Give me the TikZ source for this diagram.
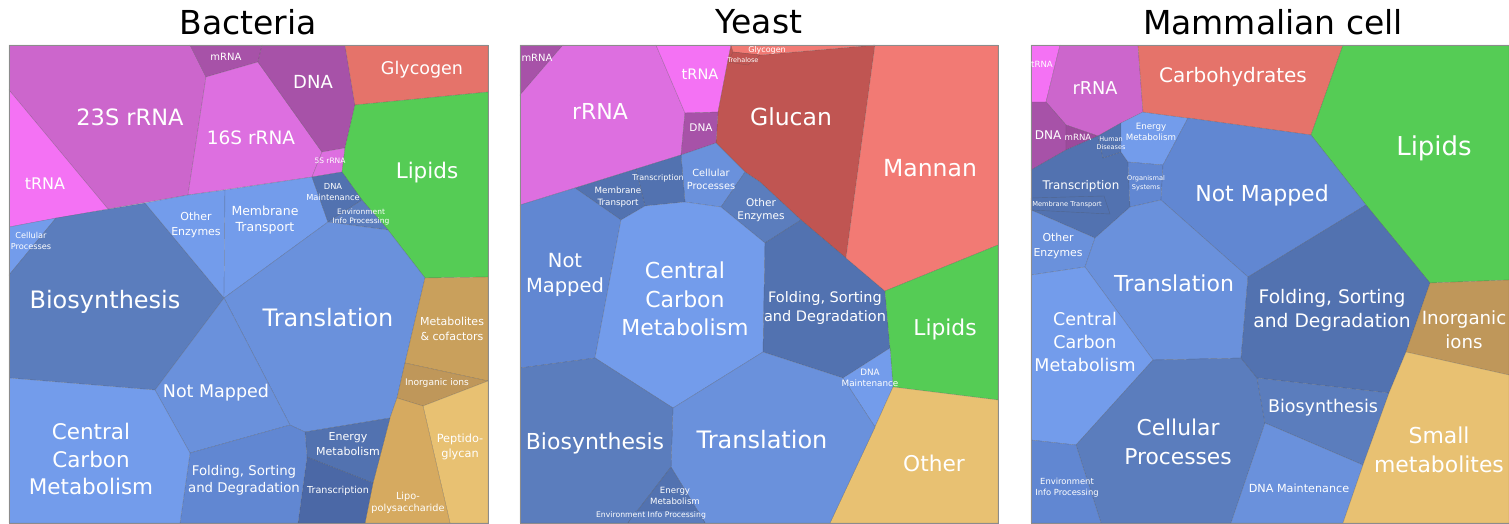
\documentclass[tikz,border=0pt]{standalone}
\usepackage{fontspec}
\setmainfont{DejaVu Sans}
\usepackage{tikz}
\definecolor{rnaA}{HTML}{CC66CC}
\definecolor{rnaB}{HTML}{DD6FE0}
\definecolor{trna}{HTML}{F472F4}
\definecolor{dnaC}{HTML}{A752A8}
\definecolor{mrnaC}{HTML}{9C4A9C}
\definecolor{glyc}{HTML}{E5736A}
\definecolor{mann}{HTML}{F27A74}
\definecolor{gluc}{HTML}{C05552}
\definecolor{lipid}{HTML}{55CC55}
\definecolor{tanA}{HTML}{C9A05C}
\definecolor{tanB}{HTML}{BF975A}
\definecolor{tanC}{HTML}{E8C172}
\definecolor{tanD}{HTML}{D6AA60}
\definecolor{bluA}{HTML}{739CEB}
\definecolor{bluB}{HTML}{6A91DC}
\definecolor{bluC}{HTML}{6187D2}
\definecolor{bluD}{HTML}{5B7DBD}
\definecolor{bluE}{HTML}{5272B0}
\definecolor{bluF}{HTML}{4B68A6}

\begin{document}
\begin{tikzpicture}[x=1pt, y=-1pt,
  cell/.style={fill=#1, draw=black!70, draw opacity=0.35, line width=0.4pt},
  frame/.style={draw=black!45, line width=0.7pt},
  lbl/.style={/utils/exec={\pgfmathsetmacro\lskip{1.3*#1}}, text=white, align=center, inner sep=0pt, font=\fontsize{#1}{\lskip}\selectfont},
  title/.style={text=black, inner sep=0pt, font=\fontsize{33}{36}\selectfont},
]
\useasboundingbox (0,0) rectangle (1509,523);

% Bacteria
\fill[cell=rnaA] (9,45) -- (190,45) -- (206,77) -- (188,195) -- (108,209) -- (9,90) -- cycle;
\fill[cell=trna] (9,90) -- (108,209) -- (9,227) -- cycle;
\fill[cell=dnaC] (190,45) -- (262,45) -- (258,62) -- (206,77) -- cycle;
\fill[cell=rnaB] (206,77) -- (258,62) -- (322,152) -- (312,177) -- (188,195) -- cycle;
\fill[cell=dnaC] (262,45) -- (345,45) -- (355,105) -- (345,148) -- (322,152) -- (258,62) -- cycle;
\fill[cell=rnaB] (322,152) -- (345,148) -- (342,172) -- (312,177) -- cycle;
\fill[cell=glyc] (345,45) -- (488,45) -- (488,92) -- (355,105) -- cycle;
\fill[cell=lipid] (355,105) -- (488,92) -- (488,277) -- (425,278) -- (388,230) -- (362,200) -- (342,172) -- (345,148) -- cycle;
\fill[cell=bluA] (9,227) -- (56,218) -- (9,275) -- cycle;
\fill[cell=bluD] (9,275) -- (56,218) -- (145,203) -- (224,298) -- (155,390) -- (9,378) -- cycle;
\fill[cell=bluA] (145,203) -- (188,195) -- (225,190) -- (224,298) -- cycle;
\fill[cell=bluA] (225,190) -- (312,177) -- (328,222) -- (224,298) -- cycle;
\fill[cell=bluE] (312,177) -- (342,172) -- (362,200) -- (328,222) -- cycle;
\fill[cell=bluD] (328,222) -- (362,200) -- (388,230) -- cycle;
\fill[cell=bluB] (224,298) -- (328,222) -- (388,230) -- (425,278) -- (405,363) -- (397,398) -- (390,418) -- (305,432) -- (290,425) -- cycle;
\fill[cell=bluB] (224,298) -- (290,425) -- (190,453) -- (155,390) -- cycle;
\fill[cell=tanA] (425,278) -- (488,277) -- (488,381) -- (405,363) -- cycle;
\fill[cell=tanB] (405,363) -- (488,381) -- (423,406) -- (397,398) -- cycle;
\fill[cell=tanC] (423,406) -- (488,381) -- (488,523) -- (450,523) -- cycle;
\fill[cell=tanD] (397,398) -- (423,406) -- (450,523) -- (365,523) -- (373,483) -- (390,418) -- cycle;
\fill[cell=bluE] (305,432) -- (390,418) -- (373,483) -- (307,457) -- cycle;
\fill[cell=bluF] (307,457) -- (373,483) -- (365,523) -- (298,523) -- cycle;
\fill[cell=bluC] (190,453) -- (290,425) -- (305,432) -- (307,457) -- (298,523) -- (180,523) -- cycle;
\fill[cell=bluA] (9,378) -- (155,390) -- (190,453) -- (180,523) -- (9,523) -- cycle;
\draw[frame] (9,45) rectangle (488,523);

% Yeast
\fill[cell=dnaC] (520,45) -- (563,45) -- (520,95) -- cycle;
\fill[cell=rnaB] (563,45) -- (656,45) -- (685,113) -- (681,155) -- (520,205) -- (520,95) -- cycle;
\fill[cell=trna] (656,45) -- (731,45) -- (728,60) -- (718,112) -- (685,113) -- cycle;
\fill[cell=gluc] (731,45) -- (760,55) -- (875,45) -- (846,258) -- (801,220) -- (760,182) -- (745,172) -- (716,143) -- (718,112) -- (728,60) -- cycle;
\fill[cell=mann] (731,45) -- (875,45) -- (760,55) -- (733,52) -- cycle;
\fill[cell=gluc] (733,52) -- (760,55) -- (748,65) -- (728,62) -- cycle;
\fill[cell=dnaC] (685,113) -- (718,112) -- (716,143) -- (681,155) -- cycle;
\fill[cell=bluB] (681,155) -- (716,143) -- (745,172) -- (721,207) -- (685,202) -- cycle;
\fill[cell=bluD] (745,172) -- (760,182) -- (801,220) -- (765,243) -- (721,207) -- cycle;
\fill[cell=bluE] (636,169) -- (681,155) -- (685,202) -- (645,206) -- cycle;
\fill[cell=bluE] (575,188) -- (636,169) -- (645,206) -- (621,220) -- cycle;
\fill[cell=bluC] (520,205) -- (575,188) -- (621,220) -- (595,358) -- (520,368) -- cycle;
\fill[cell=bluA] (621,220) -- (645,206) -- (685,202) -- (721,207) -- (765,243) -- (763,352) -- (673,408) -- (595,358) -- cycle;
\fill[cell=bluE] (765,243) -- (801,220) -- (846,258) -- (885,291) -- (890,348) -- (843,378) -- (763,352) -- cycle;
\fill[cell=mann] (875,45) -- (998,45) -- (998,245) -- (885,291) -- (846,258) -- cycle;
\fill[cell=lipid] (885,291) -- (998,245) -- (998,400) -- (893,387) -- (890,348) -- cycle;
\fill[cell=bluA] (843,378) -- (890,348) -- (893,387) -- (875,427) -- cycle;
\fill[cell=tanC] (893,387) -- (998,400) -- (998,523) -- (830,523) -- (875,427) -- cycle;
\fill[cell=bluB] (673,408) -- (763,352) -- (843,378) -- (875,427) -- (830,523) -- (705,523) -- (671,467) -- cycle;
\fill[cell=bluD] (520,368) -- (595,358) -- (673,408) -- (671,467) -- (628,523) -- (520,523) -- cycle;
\fill[cell=bluE] (671,467) -- (705,523) -- (628,523) -- cycle;
\fill[cell=bluD] (636,511) -- (698,511) -- (705,523) -- (628,523) -- cycle;
\draw[frame] (520,45) rectangle (998,523);

% Mammalian cell
\fill[cell=trna] (1031,45) -- (1060,45) -- (1046,102) -- (1031,102) -- cycle;
\fill[cell=rnaA] (1060,45) -- (1138,45) -- (1143,112) -- (1121,123) -- (1098,136) -- (1066,125) -- (1046,102) -- cycle;
\fill[cell=dnaC] (1031,102) -- (1046,102) -- (1066,125) -- (1066,150) -- (1031,170) -- cycle;
\fill[cell=mrnaC] (1066,125) -- (1098,136) -- (1066,150) -- cycle;
\fill[cell=bluE] (1031,170) -- (1066,150) -- (1098,136) -- (1103,158) -- (1121,152) -- (1128,162) -- (1130,207) -- (1095,238) -- (1031,210) -- cycle;
\fill[cell=bluE] (1098,136) -- (1121,123) -- (1121,152) -- (1103,158) -- cycle;
\fill[cell=bluE] (1031,198) -- (1104,196) -- (1110,214) -- (1031,210) -- cycle;
\fill[cell=bluA] (1121,123) -- (1143,112) -- (1188,118) -- (1163,165) -- (1128,162) -- (1121,152) -- cycle;
\fill[cell=bluC] (1128,162) -- (1163,165) -- (1161,200) -- (1130,207) -- cycle;
\fill[cell=bluB] (1031,210) -- (1095,238) -- (1085,267) -- (1031,275) -- cycle;
\fill[cell=glyc] (1138,45) -- (1343,45) -- (1311,135) -- (1188,118) -- (1143,112) -- cycle;
\fill[cell=lipid] (1343,45) -- (1509,45) -- (1509,280) -- (1430,283) -- (1366,205) -- (1311,135) -- cycle;
\fill[cell=bluC] (1188,118) -- (1311,135) -- (1366,205) -- (1248,277) -- (1161,200) -- (1163,165) -- cycle;
\fill[cell=bluB] (1130,207) -- (1161,200) -- (1248,277) -- (1241,358) -- (1153,360) -- (1085,267) -- (1095,238) -- cycle;
\fill[cell=bluA] (1031,275) -- (1085,267) -- (1153,360) -- (1076,445) -- (1031,440) -- cycle;
\fill[cell=bluD] (1153,360) -- (1241,358) -- (1257,378) -- (1265,423) -- (1231,523) -- (1101,523) -- (1076,445) -- cycle;
\fill[cell=bluC] (1031,440) -- (1076,445) -- (1101,523) -- (1031,523) -- cycle;
\fill[cell=bluE] (1248,277) -- (1366,205) -- (1430,283) -- (1406,352) -- (1389,393) -- (1257,378) -- (1241,358) -- cycle;
\fill[cell=bluD] (1257,378) -- (1389,393) -- (1363,465) -- (1265,423) -- cycle;
\fill[cell=bluB] (1265,423) -- (1363,465) -- (1343,523) -- (1231,523) -- cycle;
\fill[cell=tanB] (1430,283) -- (1509,280) -- (1509,375) -- (1406,352) -- cycle;
\fill[cell=tanC] (1406,352) -- (1509,375) -- (1509,523) -- (1343,523) -- (1363,465) -- (1389,393) -- cycle;
\draw[frame] (1031,45) rectangle (1509,523);

\node[title] (tbac) at (248,22) {Bacteria};
\node[title] (tyst) at (759,22) {Yeast};
\node[title] (tmam) at (1273,22) {Mammalian cell};

\node[lbl=22.5] (b23s) at (130,117) {23S rRNA};
\node[lbl=18.5] (b16s) at (251,138) {16S rRNA};
\node[lbl=16] (btrna) at (45,184) {tRNA};
\node[lbl=10] (bmrna) at (226,57) {mRNA};
\node[lbl=18] (bdna) at (313,82) {DNA};
\node[lbl=17.5] (bglyc) at (422,70) {Glycogen};
\node[lbl=21.5] (blip) at (427,173) {Lipids};
\node[lbl=7.5] (b5s) at (330,161) {5S rRNA};
\node[lbl=8.2] (bcell) at (31,241) {Cellular\\Processes};
\node[lbl=11] (benz) at (196,225) {Other\\Enzymes};
\node[lbl=12.5] (bmem) at (265,220) {Membrane\\Transport};
\node[lbl=8.3] (bdnam) at (333,192) {DNA\\Maintenance};
\node[lbl=7.5] (benv) at (361,217) {Environment\\Info Processing};
\node[lbl=24] (bbio) at (105,302) {Biosynthesis};
\node[lbl=24] (btrans) at (328,318) {Translation};
\node[lbl=17.5] (bnm) at (216,393) {Not Mapped};
\node[lbl=21.5] (bccm) at (91,459) {Central\\Carbon\\Metabolism};
\node[lbl=13.3] (bfold) at (244,480) {Folding, Sorting\\and Degradation};
\node[lbl=11] (benm) at (348,444) {Energy\\Metabolism};
\node[lbl=9.6] (btrx) at (338,491) {Transcription};
\node[lbl=11] (bmet) at (452,329) {Metabolites\\\& cofactors};
\node[lbl=9.1] (bion) at (437,383) {Inorganic ions};
\node[lbl=11.3] (bpep) at (460,447) {Peptido-\\glycan};
\node[lbl=9.7] (blps) at (408,503) {Lipo-\\polysaccharide};

\node[lbl=10] (ymrna) at (537,58) {mRNA};
\node[lbl=22] (yrrna) at (600,111) {rRNA};
\node[lbl=14.5] (ytrna) at (700,74) {tRNA};
\node[lbl=10.5] (ydna) at (701,128) {DNA};
\node[lbl=8] (yglyc) at (767,50) {Glycogen};
\node[lbl=6.5] (ytre) at (743,60) {Trehalose};
\node[lbl=23.5] (yglu) at (791,117) {Glucan};
\node[lbl=23.5] (yman) at (930,168) {Mannan};
\node[lbl=19.5] (ynm) at (565,275) {Not\\Mapped};
\node[lbl=22] (yccm) at (685,299) {Central\\Carbon\\Metabolism};
\node[lbl=8] (ytrx) at (658,178) {Transcription};
\node[lbl=8.7] (ymem) at (618,197) {Membrane\\Transport};
\node[lbl=9.8] (ycell) at (711,179) {Cellular\\Processes};
\node[lbl=10.5] (yenz) at (761,210) {Other\\Enzymes};
\node[lbl=14.5] (yfold) at (825,308) {Folding, Sorting\\and Degradation};
\node[lbl=21.8] (ylip) at (945,329) {Lipids};
\node[lbl=8.8] (ydnam) at (870,378) {DNA\\Maintenance};
\node[lbl=24] (ytrans) at (762,440) {Translation};
\node[lbl=22] (ybio) at (595,443) {Biosynthesis};
\node[lbl=21.7] (yoth) at (934,463) {Other};
\node[lbl=8.6] (yenm) at (675,496) {Energy\\Metabolism};
\node[lbl=7.7] (yenv) at (651,515) {Environment Info Processing};

\node[lbl=8.6] (mtrna) at (1042,64) {tRNA};
\node[lbl=17.7] (mrrna) at (1095,88) {rRNA};
\node[lbl=12] (mdna) at (1048,135) {DNA};
\node[lbl=8.6] (mmrna) at (1078,137) {mRNA};
\node[lbl=6.5] (mhum) at (1111,143) {Human\\Diseases};
\node[lbl=8.7] (menm) at (1151,132) {Energy\\Metabolism};
\node[lbl=20] (mcarb) at (1233,77) {Carbohydrates};
\node[lbl=26] (mlip) at (1434,148) {Lipids};
\node[lbl=11.9] (mtrx) at (1081,186) {Transcription};
\node[lbl=6.7] (mmem) at (1067,205) {Membrane Transport};
\node[lbl=6.6] (morg) at (1146,183) {Organismal\\Systems};
\node[lbl=10.9] (menz) at (1058,246) {Other\\Enzymes};
\node[lbl=22] (mnm) at (1262,195) {Not Mapped};
\node[lbl=22] (mtrans) at (1174,283) {Translation};
\node[lbl=17.5] (mccm) at (1085,342) {Central\\Carbon\\Metabolism};
\node[lbl=18.7] (mfold) at (1332,310) {Folding, Sorting\\and Degradation};
\node[lbl=18.2] (mion) at (1464,330) {Inorganic\\ions};
\node[lbl=17.5] (mbio) at (1323,408) {Biosynthesis};
\node[lbl=21.8] (mcell) at (1178,442) {Cellular\\Processes};
\node[lbl=21.9] (msmall) at (1439,450) {Small\\metabolites};
\node[lbl=11.2] (mdnam) at (1299,488) {DNA Maintenance};
\node[lbl=8.4] (menv) at (1067,488) {Environment\\Info Processing};
\end{tikzpicture}
\end{document}
